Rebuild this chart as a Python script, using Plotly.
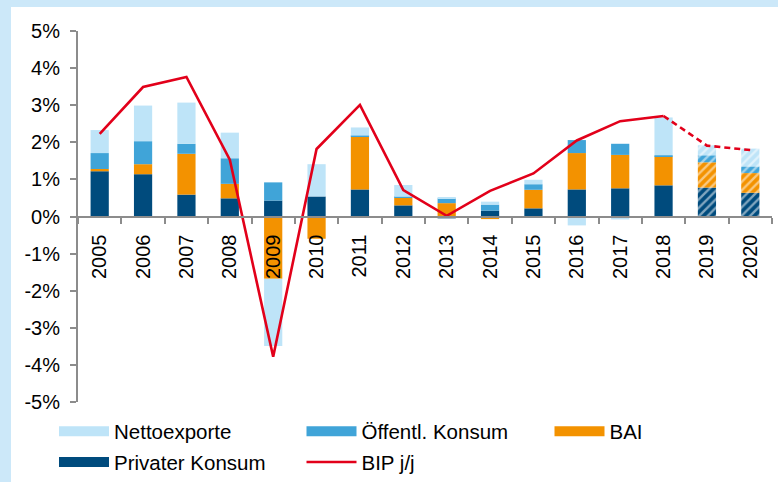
import plotly.graph_objects as go

years = [str(y) for y in range(2005, 2021)]
privater = [1.22, 1.14, 0.59, 0.49, 0.43, 0.54, 0.73, 0.30, -0.05, 0.16, 0.22, 0.73, 0.76, 0.84, 0.78, 0.64]
bai = [0.06, 0.27, 1.10, 0.39, -1.68, -0.60, 1.43, 0.21, 0.36, -0.07, 0.50, 0.98, 0.90, 0.78, 0.68, 0.53]
oeffentl = [0.43, 0.62, 0.27, 0.69, 0.49, 0.00, 0.02, 0.02, 0.13, 0.16, 0.15, 0.35, 0.30, 0.03, 0.19, 0.18]
netto = [0.62, 0.96, 1.11, 0.69, -1.81, 0.87, 0.22, 0.32, 0.02, 0.08, 0.12, -0.24, -0.08, 1.02, 0.27, 0.48]
bip = [2.23, 3.49, 3.76, 1.53, -3.78, 1.82, 3.01, 0.71, 0.02, 0.69, 1.16, 2.05, 2.57, 2.71, 1.91, 1.79]
forecast = [False] * 14 + [True, True]
last_actual = 13  # index of 2018

C_NETTO = "#bee4f8"
C_OEFF = "#40a4d8"
C_BAI = "#f39200"
C_PRIV = "#004b7d"
C_RED = "#e2001a"
FONT = "Liberation Sans, Arial, sans-serif"

shapes_pat = ["/" if f else "" for f in forecast]

fig = go.Figure()

def add_bar(name, vals, color):
    fig.add_trace(go.Bar(
        x=years, y=vals, name=name, showlegend=False,
        marker=dict(color=color, line=dict(width=0),
                    pattern=dict(shape=shapes_pat, fgcolor="white", fillmode="overlay",
                                 size=6, solidity=0.4)),
        width=0.42,
    ))

add_bar("Privater Konsum", privater, C_PRIV)
add_bar("BAI", bai, C_BAI)
add_bar("Öffentl. Konsum", oeffentl, C_OEFF)
add_bar("Nettoexporte", netto, C_NETTO)

fig.add_trace(go.Scatter(x=years[:last_actual + 1], y=bip[:last_actual + 1], mode="lines",
                         line=dict(color=C_RED, width=2.6), showlegend=False, name="BIP j/j"))
fig.add_trace(go.Scatter(x=years[last_actual:], y=bip[last_actual:], mode="lines",
                         line=dict(color=C_RED, width=2.6, dash="6px,4px"), showlegend=False,
                         name="BIP j/j"))

# legend entries (three columns)
legend_items = [("Nettoexporte", C_NETTO, 10, "legend"), ("Privater Konsum", C_PRIV, 10, "legend"),
                ("Öffentl. Konsum", C_OEFF, 10, "legend2"), ("BIP j/j", C_RED, 2.6, "legend2"),
                ("BAI", C_BAI, 10, "legend3")]
for nm, col, w, lg in legend_items:
    fig.add_trace(go.Scatter(x=[None], y=[None], mode="lines", name=nm, legend=lg,
                             legendgroup=nm, line=dict(color=col, width=w), showlegend=True))

W, H, L, R, T, B = 778, 482, 78, 6, 31, 80
PW, PH = W - L - R, H - T - B

def px_x(p):
    return (p - L) / PW

def px_y(p):
    return (H - B - p) / PH

leg_y = px_y(411.5)
leg_common = dict(orientation="v", xanchor="left", yanchor="top", itemwidth=50,
                  font=dict(family=FONT, size=20.5), bgcolor="rgba(0,0,0,0)",
                  tracegroupgap=1, traceorder="grouped")

fig.update_layout(
    width=W, height=H,
    margin=dict(l=L, r=R, t=T, b=B, autoexpand=False),
    paper_bgcolor="white", plot_bgcolor="white",
    barmode="relative",
    font=dict(family=FONT, size=20, color="black"),
    showlegend=True,
    legend=dict(x=px_x(54), y=leg_y, **leg_common),
    legend2=dict(x=px_x(301.5), y=leg_y, **leg_common),
    legend3=dict(x=px_x(549.5), y=leg_y, **leg_common),
    xaxis=dict(type="category", anchor="free", position=0.5, showline=True, linecolor="#8c8c8c",
               linewidth=2, ticks="outside", tickson="boundaries", ticklen=6, tickcolor="#8c8c8c",
               tickwidth=2, tickangle=-90, showgrid=False, zeroline=False,
               tickfont=dict(family=FONT, size=20), ticklabelstandoff=9),
    yaxis=dict(range=[-5, 5], tickvals=[-5, -4, -3, -2, -1, 0, 1, 2, 3, 4, 5],
               ticktext=["-5%", "-4%", "-3%", "-2%", "-1%", "0%", "1%", "2%", "3%", "4%", "5%"],
               showline=True, linecolor="#8c8c8c", linewidth=2, ticks="outside", ticklen=6,
               tickcolor="#8c8c8c", tickwidth=2, showgrid=False, zeroline=False,
               tickfont=dict(family=FONT, size=20), ticklabelstandoff=6),
    shapes=[
        dict(type="rect", xref="paper", yref="paper",
             x0=px_x(0), x1=px_x(11), y0=px_y(H), y1=px_y(0),
             fillcolor="#cce8f9", line=dict(width=0), layer="below"),
        dict(type="rect", xref="paper", yref="paper",
             x0=px_x(0), x1=px_x(W), y0=px_y(7), y1=px_y(0),
             fillcolor="#cce8f9", line=dict(width=0), layer="below"),
    ],
)

fig.write_html("out.html", config={"displayModeBar": False},
               post_script="document.body.style.margin='0';document.body.style.padding='0';"
                           "document.body.style.overflow='hidden';")
